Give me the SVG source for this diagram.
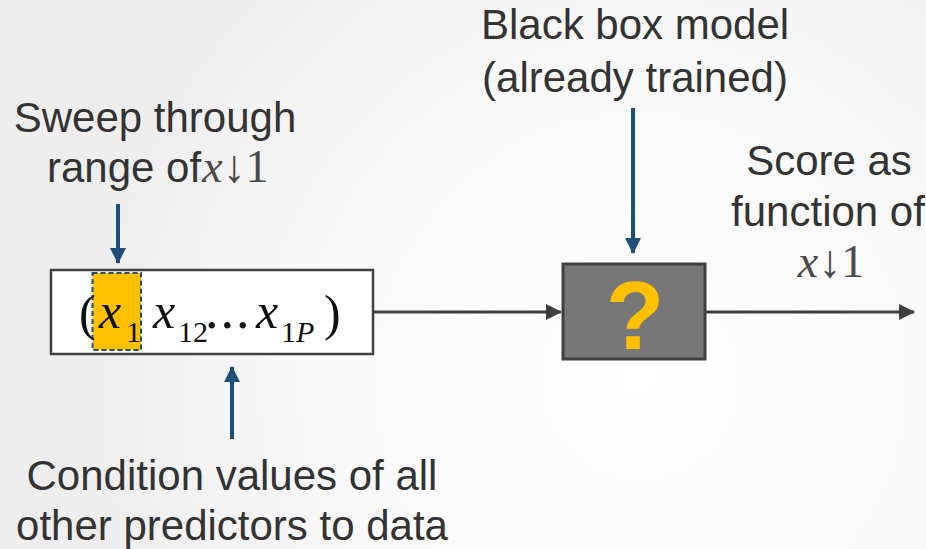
<svg xmlns="http://www.w3.org/2000/svg" width="926" height="549" viewBox="0 0 926 549">
  <defs>
    <radialGradient id="bg" cx="640" cy="380" r="560" gradientUnits="userSpaceOnUse">
      <stop offset="0" stop-color="#ffffff"/>
      <stop offset="0.6" stop-color="#f8f8f8"/>
      <stop offset="1" stop-color="#eeeeee"/>
    </radialGradient>
    <marker id="ah-blue" markerWidth="16" markerHeight="16" refX="15" refY="8" orient="auto" markerUnits="userSpaceOnUse" viewBox="0 0 16 16">
      <path d="M0,0 L16,8 L0,16 z" fill="#1f4e79"/>
    </marker>
    <marker id="ah-dark-lg" markerWidth="16" markerHeight="16" refX="15" refY="8" orient="auto" markerUnits="userSpaceOnUse" viewBox="0 0 16 16">
      <path d="M0,0 L16,8 L0,16 z" fill="#404040"/>
    </marker>
  </defs>
  <style>
    .lbl { font-family: "Liberation Sans", Arial, sans-serif; font-size: 42px; fill: #333333; }
    .mid { text-anchor: middle; }
    .math { font-family: "Liberation Serif", "Times New Roman", serif; fill: #111111; }
    .mi { font-style: italic; }
    .sym { font-family: "Liberation Serif", "DejaVu Serif", serif; fill: #4a4a4a; }
    .blue { stroke: #1f4e79; stroke-width: 4; fill: none; }
    .dark { stroke: #404040; stroke-width: 3; fill: none; }
  </style>

  <rect width="926" height="549" fill="url(#bg)"/>

  <!-- connectors -->
  <g id="connectors">
    <line class="dark" x1="373" y1="312" x2="561" y2="312" marker-end="url(#ah-dark-lg)"/>
    <line class="dark" x1="706" y1="312" x2="914" y2="312" marker-end="url(#ah-dark-lg)"/>
    <line class="blue" x1="118" y1="204" x2="118" y2="263" marker-end="url(#ah-blue)"/>
    <line class="blue" x1="633" y1="108" x2="633" y2="253" marker-end="url(#ah-blue)"/>
    <line class="blue" x1="232" y1="439" x2="232" y2="367" marker-end="url(#ah-blue)"/>
  </g>

  <!-- input vector -->
  <g id="input-vector">
    <rect x="51" y="270" width="322" height="84" fill="#ffffff" stroke="#404040" stroke-width="2.5"/>
    <rect x="92.5" y="273" width="48.5" height="77" fill="#ffc000" stroke="#1f4e79" stroke-width="2" stroke-dasharray="5,3"/>
    <text class="math" x="79" y="330" font-size="50">(</text>
    <text class="math mi" x="99" y="328" font-size="50">x</text>
    <text class="math" x="126" y="342" font-size="30">1</text>
    <text class="math mi" x="153" y="328" font-size="50">x</text>
    <text class="math" x="178" y="342" font-size="30">12</text>
    <text class="math" x="205" y="328" font-size="54" letter-spacing="2">...</text>
    <text class="math mi" x="256" y="328" font-size="50">x</text>
    <text class="math" x="281" y="342" font-size="30">1<tspan class="mi">P</tspan></text>
    <text class="math" x="324" y="330" font-size="50">)</text>
  </g>

  <!-- black box model -->
  <g id="black-box">
    <rect x="563" y="264" width="142" height="95" fill="#777777" stroke="#404040" stroke-width="3"/>
    <text x="635" y="349" font-family="Liberation Sans, Arial, sans-serif" font-size="96" font-weight="bold" fill="#ffc000" text-anchor="middle">?</text>
  </g>

  <!-- labels -->
  <g id="label-sweep">
    <text class="lbl mid" x="155" y="132">Sweep through</text>
    <text class="lbl" x="47" y="182">range of<tspan class="sym mi" font-size="46" dx="1">x</tspan><tspan class="sym" font-size="46">↓1</tspan></text>
  </g>
  <g id="label-blackbox">
    <text class="lbl mid" x="635" y="39">Black box model</text>
    <text class="lbl mid" x="635" y="92">(already trained)</text>
  </g>
  <g id="label-score">
    <text class="lbl mid" x="829" y="175">Score as</text>
    <text class="lbl mid" x="828" y="226">function of</text>
    <text class="sym mid" x="831" y="277" font-size="46"><tspan class="mi">x</tspan>↓1</text>
  </g>
  <g id="label-condition">
    <text class="lbl mid" x="232" y="490">Condition values of all</text>
    <text class="lbl mid" x="232" y="540">other predictors to data</text>
  </g>
</svg>
